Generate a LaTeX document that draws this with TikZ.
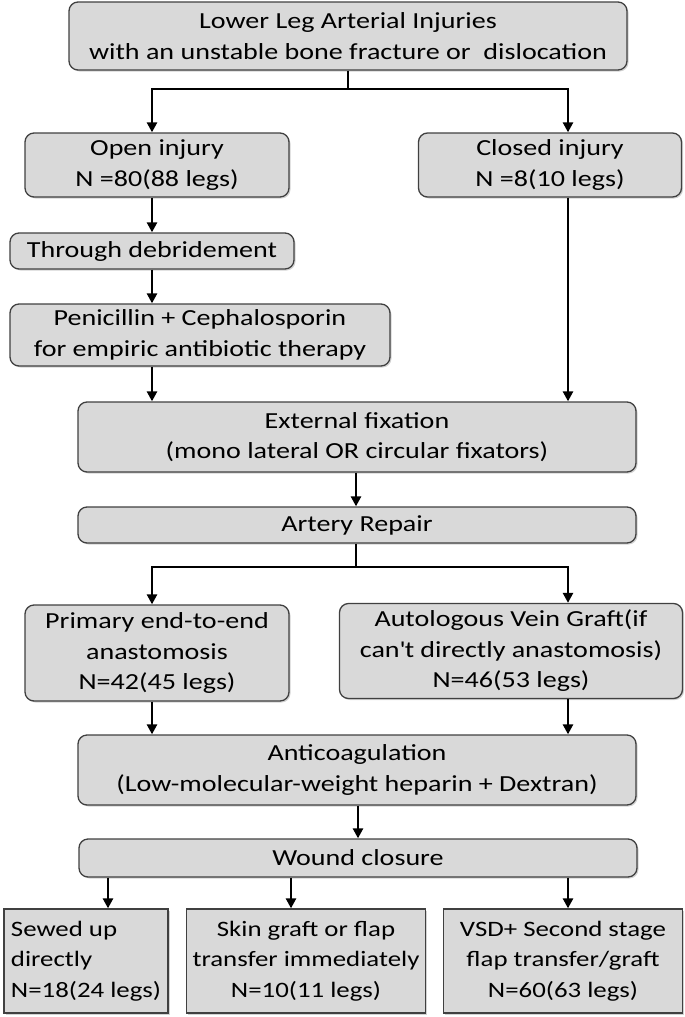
\documentclass[tikz,border=0pt]{standalone}
\usepackage{fontspec}
\setmainfont{Carlito}[FakeStretch=1.22]
\usepackage{xcolor}
\usepackage{tikz}
\usetikzlibrary{arrows.meta, positioning, shadows}
\definecolor{boxfill}{RGB}{217,217,217}
\definecolor{boxline}{RGB}{64,64,64}

\begin{document}
\begin{tikzpicture}[
  x=1pt, y=-1pt,
  stage/.style={rectangle, draw=boxline, fill=boxfill, rounded corners=9pt,
                line width=1.3pt, align=center, inner sep=2pt,
                font=\fontsize{23}{30.5}\selectfont,
                drop shadow={opacity=0.35, shadow xshift=1.5pt, shadow yshift=-1.5pt}},
  outcome/.style={stage, rounded corners=0pt, font=\fontsize{22}{30.5}\selectfont},
  arr/.style={-{Triangle[length=10pt,width=10pt]}, line width=2.7pt, black},
  link/.style={line width=2.7pt, black}
]
\useasboundingbox (0,0) rectangle (685,1017);

\coordinate (colL) at (152,0);
\coordinate (colR) at (568,0);

\node[stage, minimum width=558pt, minimum height=68pt] (injury) at (348,36)
  {Lower Leg Arterial Injuries\\with an unstable bone fracture or\ \ dislocation};
\node[stage, minimum width=264pt, minimum height=64pt] (open)   at (157,165) {Open injury\\N =80(88 legs)};
\node[stage, minimum width=263pt, minimum height=64pt] (closed) at (550,165) {Closed injury\\N =8(10 legs)};
\node[stage, minimum width=284pt, minimum height=36pt] (debr)   at (152,251) {Through debridement};
\node[stage, minimum width=380pt, minimum height=62pt] (abx)    at (200,335) {Penicillin + Cephalosporin\\for empiric antibiotic therapy};
\node[stage, minimum width=558pt, minimum height=70pt] (fix)    at (357,437) {External fixation\\(mono lateral OR circular fixators)};
\node[stage, minimum width=558pt, minimum height=36pt] (repair) at (357,525) {Artery Repair};
\node[stage, minimum width=264pt, minimum height=96pt] (e2e)    at (157,653) {Primary end-to-end\\anastomosis\\N=42(45 legs)};
\node[stage, minimum width=343pt, minimum height=95pt] (vein)   at (511,651) {Autologous Vein Graft(if\\can\textquotesingle t directly anastomosis)\\N=46(53 legs)};
\node[stage, minimum width=558pt, minimum height=70pt] (anti)   at (357,770) {Anticoagulation\\(Low-molecular-weight heparin + Dextran)};
\node[stage, minimum width=558pt, minimum height=38pt] (wound)  at (358,858) {Wound closure};
\node[outcome, minimum width=164pt, minimum height=104pt, align=left] (sewed) at (86,961)
  {Sewed up\\directly\\N=18(24 legs)};
\node[outcome, minimum width=239pt, minimum height=104pt] (skin) at (306,961) {Skin graft or flap\\transfer immediately\\N=10(11 legs)};
\node[outcome, minimum width=239pt, minimum height=104pt] (vsd)  at (563,961) {VSD+ Second stage\\flap transfer/graft\\N=60(63 legs)};

% top split
\coordinate (split1) at (348,89);
\draw[link] (injury.south) -- (split1);
\draw[arr] (split1) -| (open.north -| colL);
\draw[arr] (split1) -| (closed.north -| colR);

% open branch
\draw[arr] (open.south -| colL) -- (debr.north -| colL);
\draw[arr] (debr.south -| colL) -- (abx.north -| colL);
\draw[arr] (abx.south -| colL)  -- (fix.north -| colL);
% closed branch
\draw[arr] (closed.south -| colR) -- (fix.north -| colR);

\draw[arr] (fix.south -| 356,0) -- (repair.north -| 356,0);

% repair split
\coordinate (split2) at (356,567);
\draw[link] (repair.south -| split2) -- (split2);
\draw[arr] (split2) -| (e2e.north -| colL);
\draw[arr] (split2) -| (vein.north -| colR);

\draw[arr] (e2e.south -| colL)  -- (anti.north -| colL);
\draw[arr] (vein.south -| colR) -- (anti.north -| colR);
\draw[arr] (anti.south -| 358,0) -- (wound.north -| 358,0);

% outcomes
\draw[arr] (wound.south -| 108,0) -- (sewed.north -| 108,0);
\draw[arr] (wound.south -| 291,0) -- (skin.north -| 291,0);
\draw[arr] (wound.south -| colR)  -- (vsd.north -| colR);
\end{tikzpicture}
\end{document}
